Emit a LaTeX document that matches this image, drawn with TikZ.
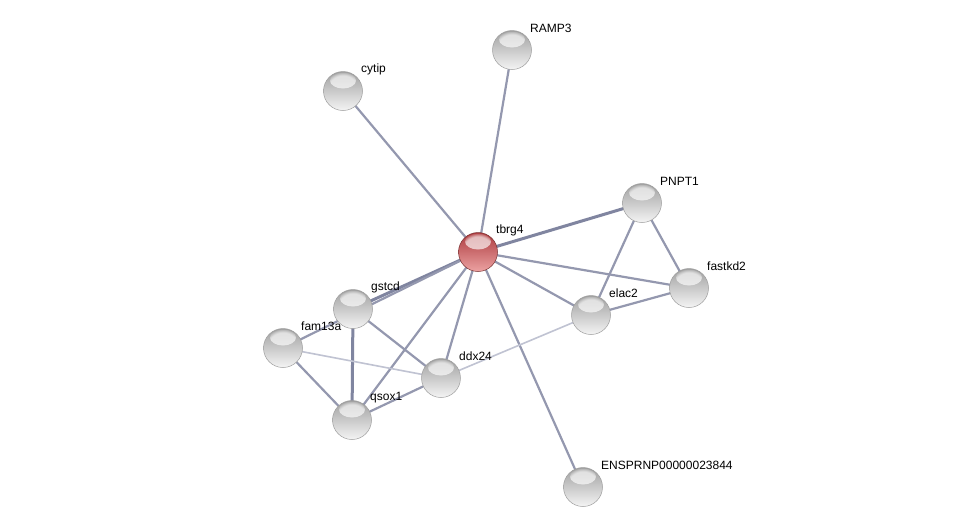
\documentclass[tikz,border=0pt]{standalone}
\usepackage{fontspec}
\setmainfont{Liberation Sans}
\usetikzlibrary{fadings}
\definecolor{edgec}{RGB}{148,152,175}
\definecolor{edgeth}{RGB}{128,133,160}
\definecolor{edgelt}{RGB}{192,195,210}
\definecolor{gtop}{RGB}{160,160,160}
\definecolor{gmid}{RGB}{212,212,212}
\definecolor{gbot}{RGB}{244,244,244}
\definecolor{rtop}{RGB}{172,58,62}
\definecolor{rmid}{RGB}{218,104,108}
\definecolor{rbot}{RGB}{236,162,162}
\begin{document}
\begin{tikzpicture}[x=1pt,y=-1pt,
  hilite/.style={path picture={
      \fill[white,opacity=0.65,path fading=circle with fuzzy edge 20 percent]
        ([yshift=-9pt]path picture bounding box.north) ellipse [x radius=13pt,y radius=8pt];}},
  prot/.style={circle,minimum size=39pt,inner sep=0pt,top color=gtop,middle color=gmid,bottom color=gbot,draw=black!38,line width=0.5pt,hilite},
  query/.style={circle,minimum size=39pt,inner sep=0pt,top color=rtop,middle color=rmid,bottom color=rbot,draw=red!35!black!80,line width=0.5pt,hilite},
  lab/.style={anchor=west,font=\fontsize{12}{14}\selectfont,inner sep=0pt},
  edge/.style={draw=edgec,line width=2.2pt},
  thick edge/.style={draw=edgeth,line width=3pt},
  light edge/.style={draw=edgelt,line width=1.6pt}]
\useasboundingbox (0,0) rectangle (976,531);
\fill[white] (0,0) rectangle (976,531);
% node positions
\coordinate (pRAMP3) at (512,50);
\coordinate (pcytip) at (343,91);
\coordinate (ptbrg4) at (478,252);
\coordinate (pPNPT1) at (642,203);
\coordinate (pfastkd2) at (689,288);
\coordinate (pelac2) at (591,315);
\coordinate (pgstcd) at (353,309);
\coordinate (pfam13a) at (283,348);
\coordinate (pddx24) at (441,378);
\coordinate (pqsox1) at (352,420);
\coordinate (pENSP) at (583,487);
% edges
\draw[edge] (ptbrg4) -- (pRAMP3);
\draw[edge] (ptbrg4) -- (pcytip);
\draw[thick edge] (ptbrg4) -- (pPNPT1);
\draw[edge] (ptbrg4) -- (pfastkd2);
\draw[edge] (ptbrg4) -- (pelac2);
\draw[thick edge] (ptbrg4) -- (pgstcd);
\draw[edge] (ptbrg4) -- (pfam13a);
\draw[edge] (ptbrg4) -- (pddx24);
\draw[edge] (ptbrg4) -- (pqsox1);
\draw[edge] (ptbrg4) -- (pENSP);
\draw[edge] (pPNPT1) -- (pelac2);
\draw[edge] (pPNPT1) -- (pfastkd2);
\draw[edge] (pelac2) -- (pfastkd2);
\draw[light edge] (pddx24) -- (pelac2);
\draw[edge] (pgstcd) -- (pddx24);
\draw[thick edge] (pgstcd) -- (pqsox1);
\draw[light edge] (pfam13a) -- (pddx24);
\draw[edge] (pfam13a) -- (pqsox1);
\draw[edge] (pqsox1) -- (pddx24);
% nodes
\node[prot] (RAMP3) at (pRAMP3) {};
\node[prot] (cytip) at (pcytip) {};
\node[query] (tbrg4) at (ptbrg4) {};
\node[prot] (PNPT1) at (pPNPT1) {};
\node[prot] (fastkd2) at (pfastkd2) {};
\node[prot] (elac2) at (pelac2) {};
\node[prot] (gstcd) at (pgstcd) {};
\node[prot] (fam13a) at (pfam13a) {};
\node[prot] (ddx24) at (pddx24) {};
\node[prot] (qsox1) at (pqsox1) {};
\node[prot] (ENSP) at (pENSP) {};
% labels
\node[lab] (lRAMP3) at ([shift={(18,-22)}]pRAMP3) {RAMP3};
\node[lab] (lcytip) at ([shift={(18,-22)}]pcytip) {cytip};
\node[lab] (ltbrg4) at ([shift={(18,-22)}]ptbrg4) {tbrg4};
\node[lab] (lPNPT1) at ([shift={(18,-22)}]pPNPT1) {PNPT1};
\node[lab] (lfastkd2) at ([shift={(18,-22)}]pfastkd2) {fastkd2};
\node[lab] (lelac2) at ([shift={(18,-22)}]pelac2) {elac2};
\node[lab] (lgstcd) at ([shift={(18,-22)}]pgstcd) {gstcd};
\node[lab] (lfam13a) at ([shift={(18,-22)}]pfam13a) {fam13a};
\node[lab] (lddx24) at ([shift={(18,-22)}]pddx24) {ddx24};
\node[lab] (lqsox1) at ([shift={(18,-22)}]pqsox1) {qsox1};
\node[lab] (lENSP) at ([shift={(18,-22)}]pENSP) {ENSPRNP00000023844};
\end{tikzpicture}
\end{document}
